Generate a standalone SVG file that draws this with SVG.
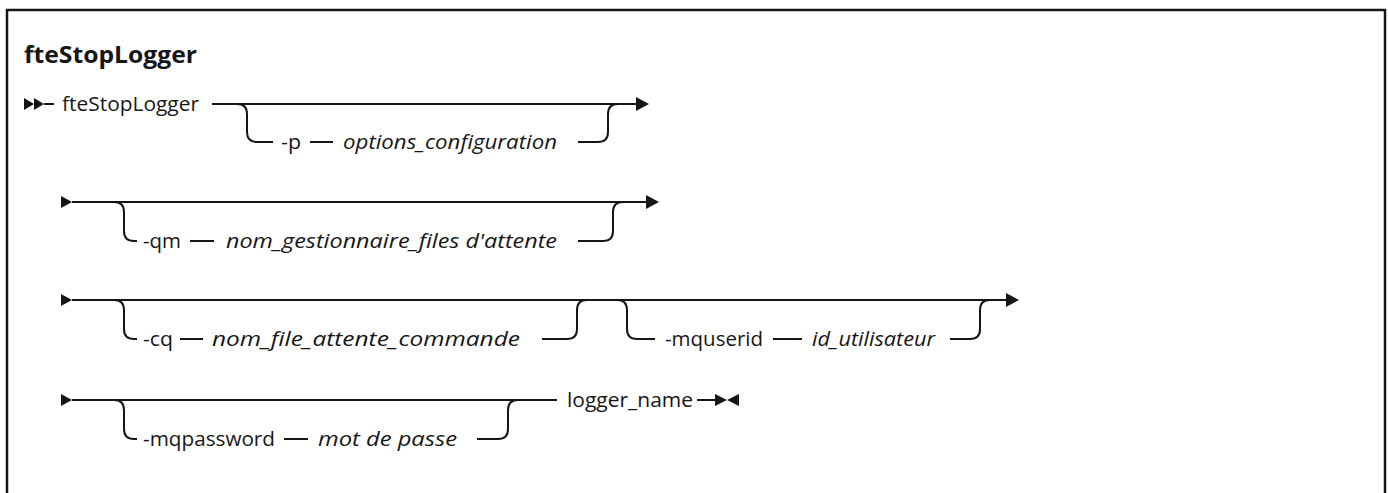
<svg xmlns="http://www.w3.org/2000/svg" width="1388" height="493" viewBox="0 0 1388 493">
<style>
.t{font-family:"Open Sans","Liberation Sans",sans-serif;font-size:20.5px;fill:#161616}
.i{font-style:italic}
.h{font-weight:bold;font-size:23px}
.ln{fill:none;stroke:#161616;stroke-width:2}
.ah{fill:#161616;stroke:none}
</style>
<rect x="0" y="0" width="1388" height="493" fill="#ffffff"/>
<rect x="7" y="10" width="1378" height="500" fill="none" stroke="#161616" stroke-width="2.5"/>
<g id="title"><text x="24" y="63" class="t h" textLength="173" lengthAdjust="spacingAndGlyphs">fteStopLogger</text></g>

<g id="connectors">
  <!-- row 1 -->
  <polygon class="ah" points="24,98 34,104 24,110"/>
  <polygon class="ah" points="34,98 44,104 34,110"/>
  <line class="ln" x1="44" y1="104" x2="54" y2="104"/>
  <line class="ln" x1="212" y1="104" x2="638" y2="104"/>
  <polygon class="ah" points="636,97 649,104 636,111"/>
  <path class="ln" d="M237,104 Q247,104 247,114 V132 Q247,142 257,142 H273"/>
  <line class="ln" x1="310" y1="142" x2="333" y2="142"/>
  <path class="ln" d="M578,142 H598 Q608,142 608,132 V114 Q608,104 618,104"/>
  <!-- row 2 -->
  <polygon class="ah" points="61,196 72,202 61,208"/>
  <line class="ln" x1="72" y1="202" x2="648" y2="202"/>
  <polygon class="ah" points="646,195 659,202 646,209"/>
  <path class="ln" d="M114,202 Q124,202 124,212 V231 Q124,241 134,241 H137"/>
  <line class="ln" x1="190" y1="241" x2="214" y2="241"/>
  <path class="ln" d="M578,241 H603 Q613,241 613,231 V212 Q613,202 623,202"/>
  <!-- row 3 -->
  <polygon class="ah" points="61,294 72,300 61,306"/>
  <line class="ln" x1="72" y1="300" x2="1008" y2="300"/>
  <polygon class="ah" points="1006,293 1019,300 1006,307"/>
  <path class="ln" d="M114,300 Q124,300 124,310 V329 Q124,339 134,339 H137"/>
  <line class="ln" x1="180" y1="339" x2="203" y2="339"/>
  <path class="ln" d="M542,339 H567 Q577,339 577,329 V310 Q577,300 587,300"/>
  <path class="ln" d="M617,300 Q627,300 627,310 V329 Q627,339 637,339 H655"/>
  <line class="ln" x1="773" y1="339" x2="802" y2="339"/>
  <path class="ln" d="M950,339 H970 Q980,339 980,329 V310 Q980,300 990,300"/>
  <!-- row 4 -->
  <polygon class="ah" points="61,394 72,400 61,406"/>
  <line class="ln" x1="72" y1="400" x2="557" y2="400"/>
  <path class="ln" d="M114,400 Q124,400 124,410 V429 Q124,439 134,439 H137"/>
  <line class="ln" x1="284" y1="439" x2="308" y2="439"/>
  <path class="ln" d="M477,439 H498 Q508,439 508,429 V410 Q508,400 518,400"/>
  <line class="ln" x1="697" y1="400" x2="716" y2="400"/>
  <polygon class="ah" points="715,394 727,400 715,406"/>
  <polygon class="ah" points="739,394 727,400 739,406"/>
</g>

<g id="n-cmd"><text x="62" y="111" class="t" textLength="137" lengthAdjust="spacingAndGlyphs">fteStopLogger</text></g>
<g id="n-p"><text x="281" y="149" class="t" textLength="20" lengthAdjust="spacingAndGlyphs">-p</text><text x="343" y="149" class="t i" textLength="214" lengthAdjust="spacingAndGlyphs">options_configuration</text></g>
<g id="n-qm"><text x="143" y="248" class="t" textLength="38" lengthAdjust="spacingAndGlyphs">-qm</text><text x="226" y="248" class="t i" textLength="331" lengthAdjust="spacingAndGlyphs">nom_gestionnaire_files d'attente</text></g>
<g id="n-cq"><text x="143" y="346" class="t" textLength="30" lengthAdjust="spacingAndGlyphs">-cq</text><text x="212" y="346" class="t i" textLength="308" lengthAdjust="spacingAndGlyphs">nom_file_attente_commande</text></g>
<g id="n-mquserid"><text x="665" y="346" class="t" textLength="98" lengthAdjust="spacingAndGlyphs">-mquserid</text><text x="812" y="346" class="t i" textLength="123" lengthAdjust="spacingAndGlyphs">id_utilisateur</text></g>
<g id="n-mqpassword"><text x="143" y="446" class="t" textLength="132" lengthAdjust="spacingAndGlyphs">-mqpassword</text><text x="318" y="446" class="t i" textLength="139" lengthAdjust="spacingAndGlyphs">mot de passe</text></g>
<g id="n-logger"><text x="567" y="407" class="t" textLength="126" lengthAdjust="spacingAndGlyphs">logger_name</text></g>
</svg>
